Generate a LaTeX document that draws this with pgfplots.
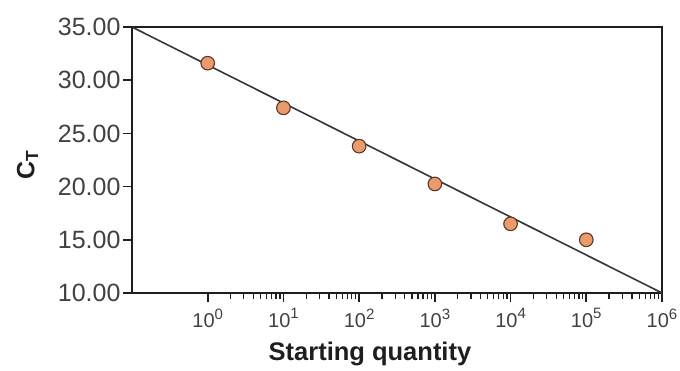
\documentclass[border=0pt]{standalone}
\usepackage{pgfplots}
\pgfplotsset{compat=1.18}
\usepackage{fontspec}
\setmainfont{Liberation Sans}
\definecolor{mfill}{RGB}{234,155,110}
\definecolor{medge}{RGB}{95,55,35}
\definecolor{tlab}{RGB}{65,65,65}
\definecolor{axc}{RGB}{30,30,30}
\newcommand\tl[1]{{\fontsize{20}{22}\selectfont 10\raisebox{0.42em}{\fontsize{15}{15}\selectfont #1}}}
\begin{document}
\begin{tikzpicture}
\begin{axis}[
  scale only axis,
  width=530pt, height=266pt,
  xmode=log,
  xmin=0.1, xmax=1e6,
  ymin=10, ymax=35,
  axis line style={axc, line width=1.6pt},
  major tick style={axc, line width=1.6pt},
  minor tick style={axc, line width=1.3pt},
  tick align=outside,
  tick pos=left,
  major tick length=9pt,
  minor tick length=6.5pt,
  xtick={1,10,100,1000,10000,100000,1000000},
  xticklabels={\tl{0},\tl{1},\tl{2},\tl{3},\tl{4},\tl{5},\tl{6}},
  xticklabel style={text=tlab, yshift=-3pt},
  ytick={10,15,20,25,30,35},
  yticklabel style={font=\fontsize{25}{27}\selectfont, text=tlab, xshift=1pt,
    /pgf/number format/.cd, fixed, fixed zerofill, precision=2, assume math mode=true},
  ylabel={\textbf{C\textsubscript{T}}},
  ylabel style={font=\fontsize{25}{27}\selectfont, text=axc, at={(axis description cs:-0.197,0.481)}, anchor=center},
  xlabel={\textbf{Starting quantity}},
  xlabel style={font=\fontsize{25.5}{27}\selectfont, text=axc, at={(axis description cs:0.449,-0.229)}, anchor=center},
  clip=false,
]
\addplot[no markers, color=axc!90, line width=1.6pt] coordinates {(0.1,35) (1000000,10)};
\addplot[only marks, mark=*, mark size=6.8pt, mark options={fill=mfill, draw=medge, line width=1.1pt}] coordinates {
(1,31.6) (10,27.4) (100,23.8) (1000,20.25) (10000,16.5) (100000,15.0)
};
\end{axis}
\pgfresetboundingbox
\path (-132pt,-78pt) rectangle (548pt,293pt);
\end{tikzpicture}
\end{document}
